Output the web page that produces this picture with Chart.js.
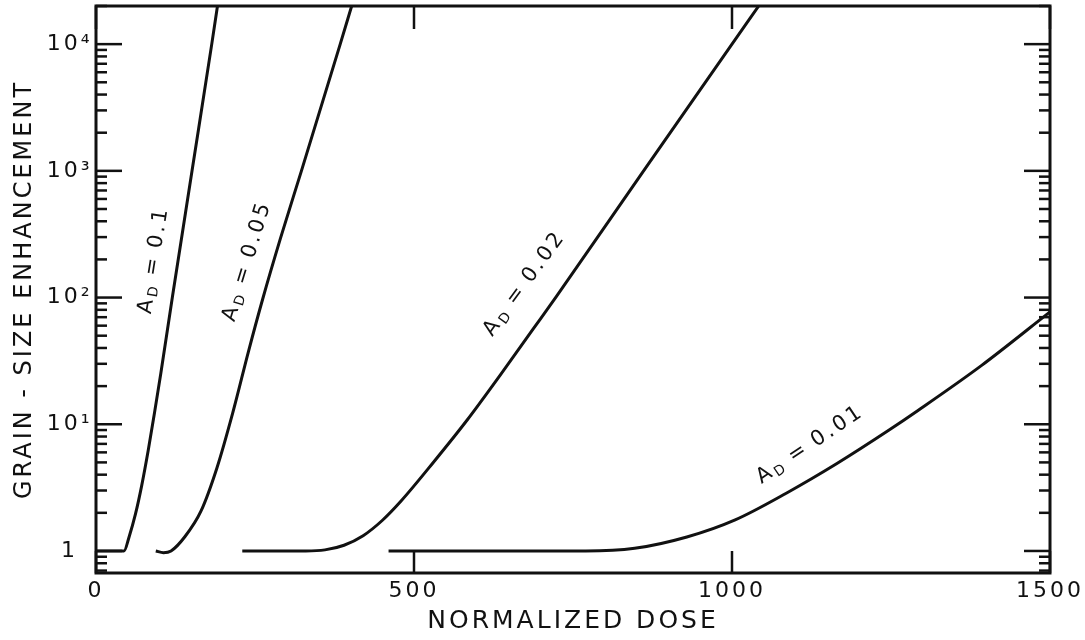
<!DOCTYPE html>
<html>
<head>
<meta charset="utf-8">
<script src="https://cdn.jsdelivr.net/npm/chart.js@4/dist/chart.umd.min.js"></script>
<style>
  html, body { margin: 0; padding: 0; background: #fff; }
  #wrap { width: 1085px; height: 640px; }
</style>
</head>
<body>
<div id="wrap"><canvas id="grainChart" width="1085" height="640"></canvas></div>
<script>
// Grain-size enhancement vs normalized dose, one curve per A_D value
const seriesNames = ['0.1', '0.05', '0.02', '0.01'];

const dose010 = [0, 44, 52, 62, 72, 82, 92, 102, 120, 151, 182, 191];
const gse010  = [1, 1, 1.29, 1.95, 3.31, 6.17, 12.3, 25.4, 100, 1000, 10000, 20000];

const dose005 = [94, 106, 118, 140, 165, 190, 215, 240, 262, 290, 323, 384, 402];
const gse005  = [1, 0.97, 1.0, 1.3, 2.06, 4.5, 12.3, 38, 97, 293, 1000, 10000, 20000];

const dose002 = [230, 330, 360, 390, 420, 450, 480, 530, 583, 635, 688, 724, 861, 1000, 1042];
const gse002  = [1, 1, 1.02, 1.11, 1.32, 1.74, 2.49, 4.97, 10.7, 24.2, 57, 102, 1000, 10000, 20000];

const dose001 = [460, 700, 770, 847, 929, 1005, 1086, 1165, 1247, 1293, 1392, 1500];
const gse001  = [1, 1, 1.0, 1.05, 1.29, 1.76, 2.87, 4.9, 9.0, 12.9, 29, 77];

const xTickValues = [0, 500, 1000, 1500];
const xTickLabels = ['0', '500', '1000', '1500'];
const yTickValues = [1, 10, 100, 1000, 10000];
const yTickLabels = ['1', '10\u00b9', '10\u00b2', '10\u00b3', '10\u2074'];

const ink = '#111';
const family = '"DejaVu Sans", "Liberation Sans", sans-serif';

function toPoints(xs, ys) {
    return xs.map((v, i) => ({ x: v, y: ys[i] }));
}

// where each A_D label sits along its curve (data coords) and its slant
const curveLabels = [
    { name: seriesNames[0], x: 91,   y: 198, angle: -81 },
    { name: seriesNames[1], x: 238,  y: 194, angle: -73 },
    { name: seriesNames[2], x: 674,  y: 129, angle: -54 },
    { name: seriesNames[3], x: 1123, y: 6.9, angle: -34 }
];

const frameTicks = {
    id: 'frameTicks',
    beforeDraw(chart) {
        chart.ctx.letterSpacing = '3px';
    },
    afterDatasetsDraw(chart) {
        const { ctx, chartArea: a, scales: { x, y } } = chart;
        const seg = (x1, y1, x2, y2) => {
            ctx.beginPath();
            ctx.moveTo(x1, y1);
            ctx.lineTo(x2, y2);
            ctx.stroke();
        };
        ctx.save();
        ctx.strokeStyle = ink;
        ctx.lineWidth = 2.5;

        // log decades with minor ticks, pointing inward on both sides
        for (let d = -1; d <= 4; d++) {
            for (let m = 1; m <= 9; m++) {
                const v = m * Math.pow(10, d);
                if (v < y.min || v > y.max) continue;
                const py = y.getPixelForValue(v);
                const len = m === 1 ? 26 : 11;
                seg(a.left, py, a.left + len, py);
                seg(a.right, py, a.right - len, py);
            }
        }

        // dose ticks on bottom and top edges
        xTickValues.forEach(v => {
            const px = x.getPixelForValue(v);
            seg(px, a.bottom, px, a.bottom - 22);
            seg(px, a.top, px, a.top + 23);
        });

        // frame
        ctx.lineWidth = 3;
        ctx.strokeRect(a.left, a.top, a.right - a.left, a.bottom - a.top);
        ctx.restore();
    }
};

const curveNames = {
    id: 'curveNames',
    afterDatasetsDraw(chart) {
        const { ctx, scales: { x, y } } = chart;
        const big = '21px ' + family;
        const small = '14px ' + family;
        ctx.save();
        ctx.fillStyle = ink;
        ctx.textBaseline = 'middle';
        ctx.textAlign = 'left';
        ctx.letterSpacing = '3px';
        curveLabels.forEach(l => {
            const rest = '\u2009=\u2009' + l.name;
            ctx.font = big;
            const wA = ctx.measureText('A').width;
            const wRest = ctx.measureText(rest).width;
            ctx.font = small;
            const wD = ctx.measureText('D').width;
            const total = wA + wD + wRest;

            ctx.save();
            ctx.translate(x.getPixelForValue(l.x), y.getPixelForValue(l.y));
            ctx.rotate(l.angle * Math.PI / 180);
            let cx = -total / 2;
            ctx.font = big;
            ctx.fillText('A', cx, 0);
            cx += wA;
            ctx.font = small;
            ctx.fillText('D', cx, 5);
            cx += wD;
            ctx.font = big;
            ctx.fillText(rest, cx, 0);
            ctx.restore();
        });
        ctx.restore();
    }
};

const lineStyle = {
    showLine: true,
    borderColor: ink,
    backgroundColor: ink,
    borderWidth: 3,
    pointRadius: 0,
    cubicInterpolationMode: 'monotone',
    fill: false
};

const ctx = document.getElementById('grainChart').getContext('2d');
new Chart(ctx, {
    type: 'scatter',
    data: {
        datasets: [
            { label: seriesNames[0], data: toPoints(dose010, gse010), ...lineStyle },
            { label: seriesNames[1], data: toPoints(dose005, gse005), ...lineStyle },
            { label: seriesNames[2], data: toPoints(dose002, gse002), ...lineStyle },
            { label: seriesNames[3], data: toPoints(dose001, gse001), ...lineStyle }
        ]
    },
    options: {
        responsive: false,
        animation: false,
        devicePixelRatio: 1,
        layout: { padding: { top: 6, right: 35, left: 0, bottom: 0 } },
        plugins: {
            legend: { display: false },
            tooltip: { enabled: false }
        },
        scales: {
            x: {
                type: 'linear',
                min: 0,
                max: 1500,
                afterFit(scale) {
                    scale.height = 67;
                    scale.paddingLeft = 0;
                    scale.paddingRight = 0;
                },
                afterBuildTicks(scale) {
                    scale.ticks = xTickValues.map(v => ({ value: v }));
                },
                grid: { display: false, drawTicks: false },
                border: { display: false },
                ticks: {
                    color: ink,
                    padding: 5,
                    maxRotation: 0,
                    font: { family: family, size: 22 },
                    callback: (value) => {
                        const i = xTickValues.indexOf(value);
                        return i >= 0 ? xTickLabels[i] : '';
                    }
                },
                title: {
                    display: true,
                    text: 'NORMALIZED DOSE',
                    color: ink,
                    padding: { top: 0, bottom: 4 },
                    font: { family: family, size: 25 }
                }
            },
            y: {
                type: 'logarithmic',
                min: 0.67,
                max: 20000,
                afterFit(scale) {
                    scale.width = 96;
                    scale.paddingTop = 0;
                    scale.paddingBottom = 0;
                },
                afterBuildTicks(scale) {
                    scale.ticks = yTickValues.map(v => ({ value: v }));
                },
                grid: { display: false, drawTicks: false },
                border: { display: false },
                ticks: {
                    color: ink,
                    padding: 8,
                    crossAlign: 'center',
                    font: { family: family, size: 22 },
                    callback: (value) => {
                        const i = yTickValues.indexOf(value);
                        return i >= 0 ? yTickLabels[i] : '';
                    }
                },
                title: {
                    display: true,
                    text: 'GRAIN - SIZE ENHANCEMENT',
                    color: ink,
                    padding: { top: 10, bottom: 0 },
                    font: { family: family, size: 24 }
                }
            }
        }
    },
    plugins: [frameTicks, curveNames]
});
</script>
</body>
</html>
